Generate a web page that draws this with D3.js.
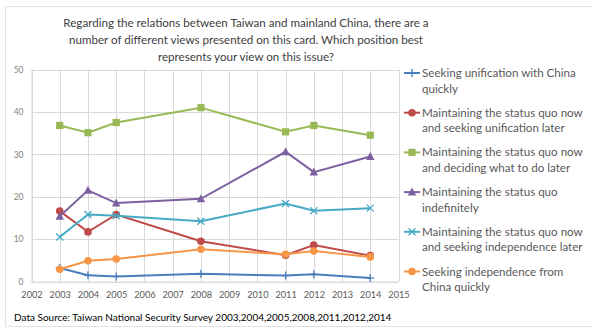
<!DOCTYPE html>
<html>
<head>
<meta charset="utf-8">
<script src="https://cdn.jsdelivr.net/npm/d3@7"></script>
<style>
  body { margin: 0; background: #fff; }
  text { font-family: Lato, "Open Sans", sans-serif; }
</style>
</head>
<body>
<script>
let width = 592, height = 329;

// survey years and shares (%) per position
let years = [2003, 2004, 2005, 2008, 2011, 2012, 2014];
let unifyQuickly = [3.2, 1.5, 1.2, 1.8, 1.4, 1.7, 0.8];
let quoThenUnify = [16.6, 11.7, 15.8, 9.5, 6.2, 8.6, 6.1];
let quoDecideLater = [36.8, 35.1, 37.5, 41.0, 35.3, 36.8, 34.5];
let quoIndefinitely = [15.4, 21.5, 18.5, 19.5, 30.6, 25.8, 29.5];
let quoThenIndep = [10.5, 15.8, 15.5, 14.2, 18.4, 16.7, 17.3];
let indepQuickly = [2.9, 4.9, 5.3, 7.6, 6.4, 7.2, 5.8];

let seriesNames = [
  ["Seeking unification with China", "quickly"],
  ["Maintaining the status quo now", "and seeking unification later"],
  ["Maintaining the status quo now", "and deciding what to do later"],
  ["Maintaining the status quo", "indefinitely"],
  ["Maintaining the status quo now", "and seeking independence later"],
  ["Seeking independence from", "China quickly"]
];
let seriesColors = ["#4a7ebb", "#be4b48", "#98b954", "#7d60a0", "#46aac5", "#f79646"];
let seriesMarkers = ["plus", "circle", "square", "triangle", "cross", "circle"];
let seriesValues = [unifyQuickly, quoThenUnify, quoDecideLater, quoIndefinitely, quoThenIndep, indepQuickly];

let xTicks = d3.range(2002, 2016);
let yTicks = [0, 10, 20, 30, 40, 50];

let titleLines = [
  "Regarding the relations between Taiwan and mainland China, there are a",
  "number of different views presented on this card. Which position best",
  "represents your view on this issue?"
];

let svg = d3.select("body").append("svg")
    .attr("width", width)
    .attr("height", height);

svg.append("rect")
    .attr("x", 5.5).attr("y", 6.5)
    .attr("width", 600).attr("height", 320)
    .attr("fill", "#fff")
    .attr("stroke", "#e3e3e3");

let x = d3.scaleLinear().domain([2002, 2015]).range([31.5, 398.5]);
let y = d3.scaleLinear().domain([0, 50]).range([281.5, 69.5]);

// title
svg.append("g").selectAll("text")
    .data(titleLines)
  .enter().append("text")
    .attr("x", 246)
    .attr("y", (d, i) => 27 + i * 17)
    .attr("text-anchor", "middle")
    .attr("font-size", 11.6)
    .attr("fill", "#404040")
    .text(d => d);

// grid
let grid = svg.append("g").attr("stroke", "#d9d9d9").attr("stroke-width", 1);
grid.selectAll("line.h")
    .data(yTicks)
  .enter().append("line")
    .attr("x1", x.range()[0]).attr("x2", x.range()[1])
    .attr("y1", d => Math.round(y(d)) + 0.5).attr("y2", d => Math.round(y(d)) + 0.5);
grid.selectAll("line.v")
    .data(xTicks)
  .enter().append("line")
    .attr("y1", y.range()[0]).attr("y2", y.range()[1])
    .attr("x1", d => Math.round(x(d)) + 0.5).attr("x2", d => Math.round(x(d)) + 0.5);

// axes
let yAxis = svg.append("g")
    .attr("transform", "translate(" + x.range()[0] + ",0)")
    .call(d3.axisLeft(y).tickValues(yTicks).tickSize(0).tickPadding(8));
let xAxis = svg.append("g")
    .attr("transform", "translate(0," + y.range()[0] + ")")
    .call(d3.axisBottom(x).tickValues(xTicks).tickFormat(d3.format("d")).tickSize(0).tickPadding(10));
[yAxis, xAxis].forEach(a => {
  a.select(".domain").attr("stroke", "#d9d9d9");
  a.selectAll("text").attr("fill", "#595959").style("font-family", "Lato, sans-serif");
});
yAxis.selectAll("text").attr("font-size", 8.5).attr("fill", "#7f7f7f");
xAxis.selectAll("text").attr("font-size", 9.2);

let line = d3.line()
    .x((d, i) => x(years[i]))
    .y(d => y(d));

function drawMarker(g, type, color) {
  if (type == "circle") {
    g.append("circle").attr("r", 3.8).attr("fill", color);
  } else if (type == "square") {
    g.append("rect").attr("x", -3.6).attr("y", -3.6).attr("width", 7.2).attr("height", 7.2).attr("fill", color);
  } else if (type == "triangle") {
    g.append("path").attr("d", "M0,-4.5L4.2,3.5L-4.2,3.5Z").attr("fill", color);
  } else if (type == "plus") {
    g.append("path").attr("d", "M-4,0H4M0,-4V4").attr("stroke", color).attr("stroke-width", 1.3);
  } else {
    g.append("path").attr("d", "M-3.5,-3.5L3.5,3.5M-3.5,3.5L3.5,-3.5").attr("stroke", color).attr("stroke-width", 1.3);
  }
}

seriesValues.forEach((vals, s) => {
  let g = svg.append("g");
  g.append("path")
      .attr("d", line(vals))
      .attr("fill", "none")
      .attr("stroke", seriesColors[s])
      .attr("stroke-width", 2);
  g.selectAll("g.pt")
      .data(vals)
    .enter().append("g")
      .attr("transform", (d, i) => "translate(" + x(years[i]) + "," + y(d) + ")")
      .each(function() { drawMarker(d3.select(this), seriesMarkers[s], seriesColors[s]); });
});

// legend
let legend = svg.append("g").attr("transform", "translate(404,73)");
seriesNames.forEach((lines, s) => {
  let item = legend.append("g").attr("transform", "translate(0," + (s * 39.7) + ")");
  item.append("line")
      .attr("x1", 0).attr("x2", 16)
      .attr("stroke", seriesColors[s]).attr("stroke-width", 2);
  let m = item.append("g").attr("transform", "translate(8,0)");
  drawMarker(m, seriesMarkers[s], seriesColors[s]);
  item.selectAll("text")
      .data(lines)
    .enter().append("text")
      .attr("x", 18)
      .attr("y", (d, i) => 4 + i * 15.5)
      .attr("font-size", 11.6)
      .attr("fill", "#595959")
      .text(d => d);
});

svg.append("text")
    .attr("x", 14)
    .attr("y", 321)
    .attr("font-size", 10)
    .attr("fill", "#000")
    .text("Data Source: Taiwan National Security Survey 2003,2004,2005,2008,2011,2012,2014");
</script>
</body>
</html>
